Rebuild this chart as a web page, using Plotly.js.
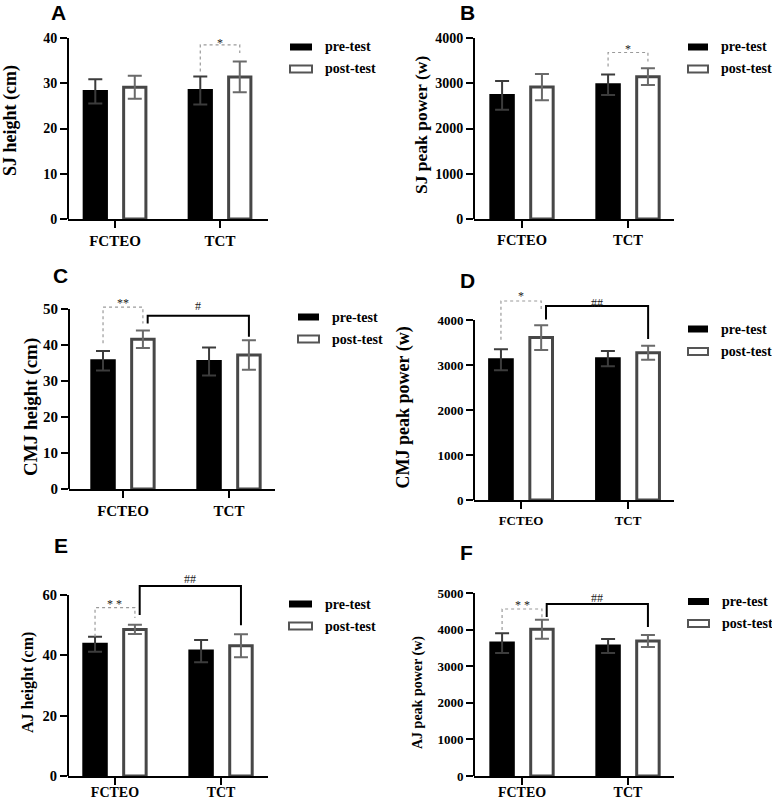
<!DOCTYPE html>
<html><head><meta charset="utf-8">
<script src="https://cdn.plot.ly/plotly-3.0.1.min.js"></script>
<style>html,body{margin:0;padding:0;background:#fff}#chart{width:772px;height:800px}</style>
</head><body><div id="chart"></div><script>
// ---------------- DATA ----------------
const categories = ['FCTEO', 'TCT'];
const seriesNames = ['pre-test', 'post-test'];
const panelLetters = ['A', 'B', 'C', 'D', 'E', 'F'];
const yTitles = ['SJ height (cm)', 'SJ peak power (w)', 'CMJ height (cm)', 'CMJ peak power (w)', 'AJ height (cm)', 'AJ peak power (w)'];
const yTickVals = [[0,10,20,30,40],[0,1000,2000,3000,4000],[0,10,20,30,40,50],[0,1000,2000,3000,4000],[0,20,40,60],[0,1000,2000,3000,4000,5000]];

const preMean  = [[28.2, 28.4], [2730, 2967], [35.6, 35.4], [3115, 3141], [43.7, 41.4], [3632, 3552]];
const preSD    = [[2.7, 3.1],   [318, 229],   [2.7, 3.9],   [233, 170],   [2.5, 3.7],   [270, 190]];
const postMean = [[29.1, 31.4], [2915, 3144], [41.6, 37.2], [3610, 3274], [48.6, 43.2], [4010, 3689]];
const postSD   = [[2.55, 3.4],  [290, 185],   [2.4, 4.1],   [275, 155],   [1.5, 3.8],   [260, 165]];

// within-group (pre vs post) significance brackets, dotted
const sigGroup  = [1, 1, 0, 0, 0, 0];
const sigLeft   = [32.6, 3371, 40.5, 3560, 46.2, 3990];
const sigTop    = [38.5, 3680, 50.5, 4422, 55.8, 4563];
const sigRight  = [36.7, 3482, 46.0, 4222, 52.4, 4317];
const sigLabel  = ['*', '*', '**', '*', '* *', '* *'];
const sigLabelY = [38.9, 3752, 51.7, 4533, 57.0, 4672];

// between-group (FCTEO post vs TCT post) brackets, solid
const betLeft   = [null, null, 46.0, 4013, 53.4, 4344];
const betTop    = [null, null, 48.1, 4311, 63.0, 4700];
const betRight  = [null, null, 42.3, 3578, 50.0, 4070];
const betLabel  = ['', '', '#', '##', '##', '##'];
const betLabelY = [null, null, 50.8, 4378, 65.3, 4863];

// ---------------- LAYOUT / STYLE ----------------
const W = 772, H = 800;
const BAR_W = 0.212, BAR_SHIFT = 0.188, SOLID_SHIFT = 0.045;
const serif = 'Liberation Serif';
const sans = 'Liberation Sans';
const PANELS = [
 {x0:68,  x1:268, top:38,     bot:219, xr:[-0.448,1.457], ymax:40,   tick:14,   cat:15,   sto:0,  tt:{x:10, y:121,  s:18},   lt:{x:59,  y:13},    lg:{x0:290,x1:312,y:[47,69],tx:323}},
 {x0:474, x1:674, top:38,     bot:219, xr:[-0.453,1.434], ymax:4000, tick:14,   cat:14.5, sto:0,  tt:{x:421,y:125,  s:17.5}, lt:{x:467, y:13},    lg:{x0:688,x1:708,y:[47,69],tx:719}},
 {x0:69,  x1:275, top:298.2,  bot:489, xr:[-0.509,1.434], ymax:53,   tick:15,   cat:15,   sto:0,  tt:{x:31, y:407,  s:19},   lt:{x:60,  y:275.5}, lg:{x0:298,x1:319,y:[317,339],tx:330}},
 {x0:474, x1:674, top:290.75, bot:500, xr:[-0.440,1.430], ymax:4650, tick:13,   cat:13,   sto:0,  tt:{x:403,y:407.5,s:18},   lt:{x:467, y:280.5}, lg:{x0:688,x1:708,y:[329,351.5],tx:719}},
 {x0:68,  x1:268, top:575.4,  bot:776, xr:[-0.443,1.443], ymax:66.5, tick:14.5, cat:14,   sto:-5, tt:{x:28, y:682,  s:16},   lt:{x:61,  y:545},   lg:{x0:289,x1:312,y:[604,626],tx:323}},
 {x0:474, x1:674, top:593,    bot:776, xr:[-0.453,1.434], ymax:5000, tick:13,   cat:14,   sto:-5, tt:{x:418,y:693,  s:14},   lt:{x:466.5,y:552.5},lg:{x0:688,x1:709,y:[601.5,623.5],tx:720}}
];

const catPos = categories.map((c, k) => k);
const traces = [], shapes = [], annotations = [];
const layout = {
  width: W, height: H, margin: {l:0, r:0, t:0, b:0},
  paper_bgcolor: '#ffffff', plot_bgcolor: 'rgba(0,0,0,0)',
  showlegend: false, barmode: 'overlay', shapes: shapes, annotations: annotations
};

PANELS.forEach((p, i) => {
  const n = i === 0 ? '' : String(i + 1);
  const xa = 'x' + n, ya = 'y' + n;
  layout['xaxis' + n] = {
    domain: [p.x0 / W, p.x1 / W], anchor: ya, range: p.xr,
    tickvals: catPos, ticktext: categories,
    showline: true, linecolor: '#000', linewidth: 2,
    ticks: 'outside', ticklen: 7, tickwidth: 2, tickcolor: '#000', ticklabelstandoff: p.sto,
    showgrid: false, zeroline: false, fixedrange: true,
    tickfont: {family: serif, size: p.cat, color: '#000', weight: 'bold'}
  };
  layout['yaxis' + n] = {
    domain: [1 - p.bot / H, 1 - p.top / H], anchor: xa, range: [0, p.ymax],
    tickvals: yTickVals[i], showline: false,
    ticks: 'outside', ticklen: 7, tickwidth: 2, tickcolor: '#000',
    showgrid: false, zeroline: false, fixedrange: true,
    tickfont: {family: serif, size: p.tick, color: '#000', weight: 'bold'}
  };
  // y axis line up to the top tick
  const yt = yTickVals[i];
  shapes.push({type:'line', xref: xa + ' domain', yref: ya, x0:0, x1:0, y0: yt[0], y1: yt[yt.length-1], line:{color:'#000', width:2}, layer:'above'});

  // bars
  traces.push({
    type:'bar', name: seriesNames[0], x: catPos, y: preMean[i], xaxis: xa, yaxis: ya,
    width: BAR_W, offset: -BAR_SHIFT - BAR_W/2,
    marker: {color:'#000', line:{color:'#000', width:3}},
    error_y: {type:'data', array: preSD[i], visible:true, color:'#3c3c3c', thickness:2, width:7},
    hoverinfo:'skip'
  });
  traces.push({
    type:'bar', name: seriesNames[1], x: catPos, y: postMean[i], xaxis: xa, yaxis: ya,
    width: BAR_W, offset: BAR_SHIFT - BAR_W/2,
    marker: {color:'#fff', line:{color:'#474747', width:3}},
    error_y: {type:'data', array: postSD[i], visible:true, color:'#6a6a6a', thickness:2, width:7},
    hoverinfo:'skip'
  });

  // dotted within-group bracket
  const g = catPos[sigGroup[i]];
  const sx = [g - BAR_SHIFT, g - BAR_SHIFT, g + BAR_SHIFT, g + BAR_SHIFT];
  traces.push({type:'scatter', mode:'lines', x: sx, y:[sigLeft[i], sigTop[i], sigTop[i], sigRight[i]],
    xaxis: xa, yaxis: ya, line:{color:'#9a9a9a', width:1.2, dash:'dot'}, hoverinfo:'skip'});
  annotations.push({xref: xa, yref: ya, x: g, y: sigLabelY[i], text: sigLabel[i], showarrow:false,
    font:{family: serif, size:12, color:'#222'}, xanchor:'center', yanchor:'middle'});

  // solid between-group bracket
  if (betTop[i] !== null) {
    const bl = catPos[0] + BAR_SHIFT + SOLID_SHIFT, br = catPos[1] + BAR_SHIFT;
    traces.push({type:'scatter', mode:'lines', x:[bl, bl, br, br], y:[betLeft[i], betTop[i], betTop[i], betRight[i]],
      xaxis: xa, yaxis: ya, line:{color:'#000', width:2}, hoverinfo:'skip'});
    annotations.push({xref: xa, yref: ya, x: (bl + br) / 2, y: betLabelY[i], text: betLabel[i], showarrow:false,
      font:{family: serif, size:12, color:'#222'}, xanchor:'center', yanchor:'middle'});
  }

  // y title
  annotations.push({xref:'paper', yref:'paper', x: p.tt.x / W, y: 1 - p.tt.y / H, text: yTitles[i], textangle:-90,
    showarrow:false, xanchor:'center', yanchor:'middle', font:{family: serif, size: p.tt.s, color:'#000', weight:'bold'}});
  // panel letter
  annotations.push({xref:'paper', yref:'paper', x: p.lt.x / W, y: 1 - p.lt.y / H, text: panelLetters[i],
    showarrow:false, xanchor:'center', yanchor:'middle', font:{family: sans, size:21, color:'#000', weight:'bold'}});

  // legend
  seriesNames.forEach((s, k) => {
    const cy = p.lg.y[k];
    shapes.push({type:'rect', xref:'paper', yref:'paper', x0: p.lg.x0 / W, x1: p.lg.x1 / W,
      y0: 1 - (cy + 3.5) / H, y1: 1 - (cy - 3.5) / H,
      fillcolor: k === 0 ? '#000' : '#fff', line: {color: k === 0 ? '#000' : '#555', width: k === 0 ? 0 : 2}});
    annotations.push({xref:'paper', yref:'paper', x: p.lg.tx / W, y: 1 - cy / H, text: s, showarrow:false,
      xanchor:'left', yanchor:'middle', font:{family: serif, size:14, color:'#000', weight:'bold'}});
  });
});

Plotly.newPlot('chart', traces, layout, {displayModeBar:false, staticPlot:true});
</script></body></html>
